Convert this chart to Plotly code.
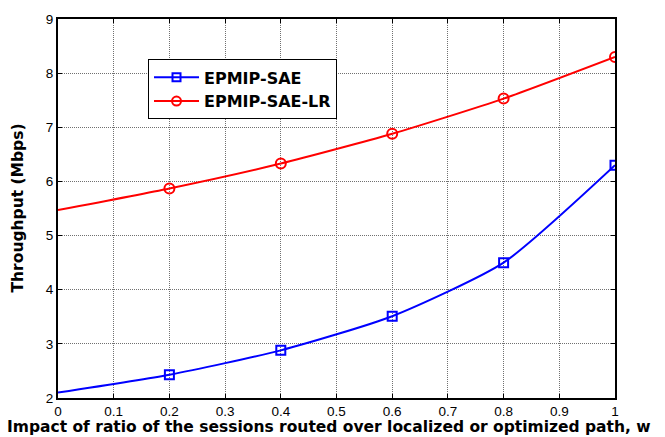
import plotly.graph_objects as go

# Ratio of sessions routed over the localized / optimized path
ratio = [0.0, 0.2, 0.4, 0.6, 0.8, 1.0]
sae = [2.10, 2.43, 2.88, 3.51, 4.50, 6.30]
sae_lr = [5.47, 5.87, 6.33, 6.88, 7.53, 8.30]

series = [
    ("EPMIP-SAE", sae, "#0000ff", "square-open", 9),
    ("EPMIP-SAE-LR", sae_lr, "#ff0000", "circle-open", 10),
]

fig = go.Figure()
for name, vals, color, symbol, msize in series:
    # smooth curve through every point
    fig.add_trace(go.Scatter(
        x=ratio, y=vals, mode="lines",
        line=dict(color=color, width=2, shape="spline", smoothing=0.6),
        showlegend=False, hoverinfo="skip"))
    # markers on the sampled ratios (not at zero)
    fig.add_trace(go.Scatter(
        x=ratio[1:], y=vals[1:], mode="markers",
        marker=dict(symbol=symbol, size=msize, color=color, line=dict(color=color, width=2)),
        showlegend=False))
    # legend entry
    fig.add_trace(go.Scatter(
        x=[None], y=[None], mode="lines+markers", name=name,
        line=dict(color=color, width=2),
        marker=dict(symbol=symbol, size=msize - 1, color=color, line=dict(color=color, width=2))))

axis_common = dict(
    showgrid=True, gridcolor="#707070", griddash="1px,1px", gridwidth=1,
    showline=True, linecolor="black", linewidth=2, mirror="allticks",
    ticks="inside", ticklen=4, tickcolor="black", zeroline=False,
    tickfont=dict(family="Liberation Sans, Arial", size=13.5, color="black"),
)

fig.update_xaxes(range=[0, 1], dtick=0.1, tick0=0, **axis_common)
fig.update_yaxes(range=[2, 9], dtick=1, tick0=2, **axis_common)

fig.update_layout(
    width=665, height=437,
    margin=dict(l=58, r=50, t=13, b=39),
    plot_bgcolor="white", paper_bgcolor="white",
    showlegend=True,
    legend=dict(
        x=0.1616, y=0.8935, xanchor="left", yanchor="top",
        bgcolor="white", bordercolor="black", borderwidth=1,
        font=dict(family="DejaVu Sans, Verdana", size=16, color="black", weight="bold"),
        itemwidth=45, tracegroupgap=0,
    ),
    annotations=[
        dict(text="<b>Impact of ratio of the sessions routed over localized or optimized path, w</b>",
             xref="paper", yref="paper", x=-0.095, y=-0.0753, xanchor="left", yanchor="middle",
             showarrow=False,
             font=dict(family="DejaVu Sans, Verdana", size=15.5, color="black")),
        dict(text="<b>Throughput (Mbps)</b>", textangle=-90,
             xref="paper", yref="paper", x=-0.0736, y=0.5, xanchor="center", yanchor="middle",
             showarrow=False,
             font=dict(family="DejaVu Sans, Verdana", size=15.5, color="black")),
    ],
)

fig.write_html("out.html")
